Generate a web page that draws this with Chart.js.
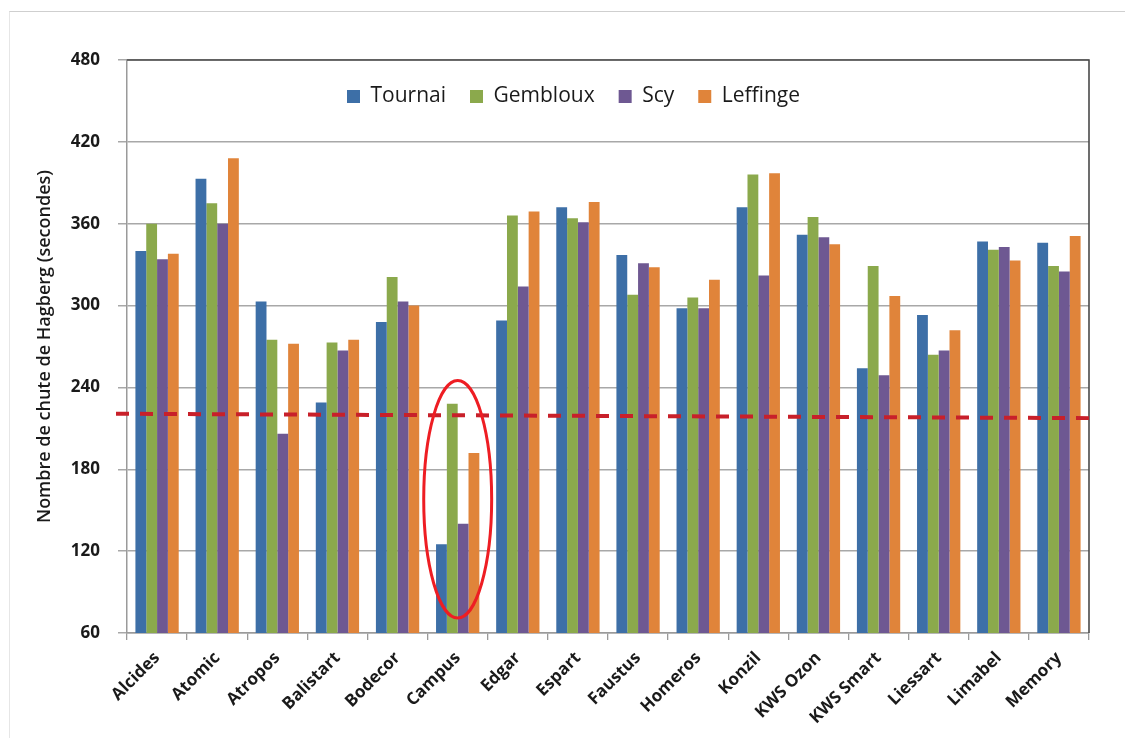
<!DOCTYPE html>
<html>
<head>
<meta charset="utf-8">
<script src="https://cdn.jsdelivr.net/npm/chart.js@4/dist/chart.umd.min.js"></script>
<style>
  html, body { margin: 0; padding: 0; background: #ffffff; }
  #wrap { position: relative; width: 1125px; height: 738px; overflow: hidden; }
  #frame { position: absolute; left: 9px; top: 11px; right: -2px; bottom: -2px;
           border-top: 1px solid #cfcfcf; border-left: 1px solid #e6e6e6; }
  #c { position: absolute; left: 0; top: 0; }
</style>
</head>
<body>
<div id="wrap">
  <div id="frame"></div>
  <canvas id="c" width="1125" height="738"></canvas>
</div>
<script>
// ---- data ----
const categories = ['Alcides', 'Atomic', 'Atropos', 'Balistart', 'Bodecor', 'Campus', 'Edgar', 'Espart',
                    'Faustus', 'Homeros', 'Konzil', 'KWS Ozon', 'KWS Smart', 'Liessart', 'Limabel', 'Memory'];
const seriesNames = ['Tournai', 'Gembloux', 'Scy', 'Leffinge'];
const tournai  = [340, 393, 303, 229, 288, 125, 289, 372, 337, 298, 372, 352, 254, 293, 347, 346];
const gembloux = [360, 375, 275, 273, 321, 228, 366, 364, 308, 306, 396, 365, 329, 264, 341, 329];
const scy      = [334, 360, 206, 267, 303, 140, 314, 361, 331, 298, 322, 350, 249, 267, 343, 325];
const leffinge = [338, 408, 272, 275, 300, 192, 369, 376, 328, 319, 397, 345, 307, 282, 333, 351];
const trendLine = [220.7, 217.5];          // dashed reference line: value at left / right edge
const yTicks = [60, 120, 180, 240, 300, 360, 420, 480];
const highlightCategory = 'Campus';
const highlightRange = [71, 245];           // value range circled in red
const yTitle = 'Nombre de chute de Hagberg (secondes)';

const colors = ['#3d6fa7', '#8ba94c', '#6e5892', '#e0843a'];
const seriesValues = [tournai, gembloux, scy, leffinge];

// ---- plugins ----
const legendMover = {
  id: 'legendMover',
  afterLayout(chart) {
    const lg = chart.legend;
    if (!lg) return;
    const h = lg.bottom - lg.top;
    lg.top = chart.chartArea.top + 2;
    lg.bottom = lg.top + h;
    lg.left += 29;
    lg.right += 29;
  }
};

const plotBorder = {
  id: 'plotBorder',
  afterDatasetsDraw(chart) {
    const { ctx, chartArea: a } = chart;
    ctx.save();
    ctx.strokeStyle = '#4a4a4a';
    ctx.lineWidth = 1.6;
    ctx.beginPath();
    ctx.moveTo(a.left, a.top);
    ctx.lineTo(a.right, a.top);
    ctx.lineTo(a.right, a.bottom);
    ctx.stroke();
    ctx.restore();
  }
};

// dashed threshold line, mapped through the y scale
const trend = {
  id: 'trend',
  afterDatasetsDraw(chart) {
    const { ctx, chartArea: a } = chart;
    const ys = chart.scales.y;
    ctx.save();
    ctx.strokeStyle = '#c8202a';
    ctx.lineWidth = 4;
    ctx.setLineDash([13, 11]);
    ctx.beginPath();
    ctx.moveTo(a.left - 11, ys.getPixelForValue(trendLine[0]));
    ctx.lineTo(a.right, ys.getPixelForValue(trendLine[trendLine.length - 1]));
    ctx.stroke();
    ctx.restore();
  }
};

const highlight = {
  id: 'highlight',
  afterDatasetsDraw(chart) {
    const { ctx } = chart;
    const xs = chart.scales.x, ys = chart.scales.y;
    const idx = categories.indexOf(highlightCategory);
    const cx = xs.getPixelForValue(idx);
    const catW = xs.getPixelForValue(1) - xs.getPixelForValue(0);
    const rx = catW * 0.565;
    const top = ys.getPixelForValue(highlightRange[1]);
    const bot = ys.getPixelForValue(highlightRange[0]);
    ctx.save();
    ctx.strokeStyle = '#ee1d23';
    ctx.lineWidth = 3;
    ctx.beginPath();
    ctx.ellipse(cx, (top + bot) / 2, rx, (bot - top) / 2, 0, 0, Math.PI * 2);
    ctx.stroke();
    ctx.restore();
  }
};

// ---- chart ----
const datasets = seriesNames.map((name, i) => ({
  label: name,
  data: seriesValues[i],
  backgroundColor: colors[i],
  borderWidth: 0,
  categoryPercentage: 0.72,
  barPercentage: 1.0
}));

new Chart(document.getElementById('c'), {
  type: 'bar',
  data: { labels: categories, datasets },
  options: {
    responsive: false,
    animation: false,
    layout: { padding: { top: 9, right: 36, left: 0, bottom: 0 } },
    plugins: {
      tooltip: { enabled: false },
      title: { display: false },
      legend: {
        display: true,
        position: 'top',
        align: 'center',
        maxHeight: 51,
        labels: {
          boxWidth: 13,
          boxHeight: 13,
          padding: 24,
          color: '#1a1a1a',
          font: { family: 'Open Sans', size: 21 }
        }
      }
    },
    scales: {
      x: {
        type: 'category',
        offset: true,
        grid: { offset: true, drawOnChartArea: false, drawTicks: true, tickLength: 7, color: '#9a9a9a', lineWidth: 1.3 },
        border: { color: '#9a9a9a', width: 1.5 },
        ticks: {
          minRotation: 45, maxRotation: 45, autoSkip: false, padding: 8,
          color: '#1a1a1a',
          font: { family: 'Open Sans', size: 17, weight: 'bold' }
        },
        afterFit(scale) { scale.height = 105; }
      },
      y: {
        type: 'linear',
        min: 60, max: 480,
        afterBuildTicks(scale) { scale.ticks = yTicks.map(v => ({ value: v })); },
        grid: { color: '#a8a8a8', lineWidth: 1.5, tickLength: 9, drawTicks: true },
        border: { color: '#9a9a9a', width: 1.5 },
        ticks: {
          padding: 18,
          color: '#1a1a1a',
          font: { family: 'Open Sans', size: 17, weight: 'bold' }
        },
        title: {
          display: true,
          text: yTitle,
          color: '#1a1a1a',
          padding: { top: 34, bottom: 0 },
          font: { family: 'Open Sans', size: 18, weight: '600' }
        },
        afterFit(scale) { scale.width = 127; }
      }
    }
  },
  plugins: [legendMover, plotBorder, trend, highlight]
});
</script>
</body>
</html>
